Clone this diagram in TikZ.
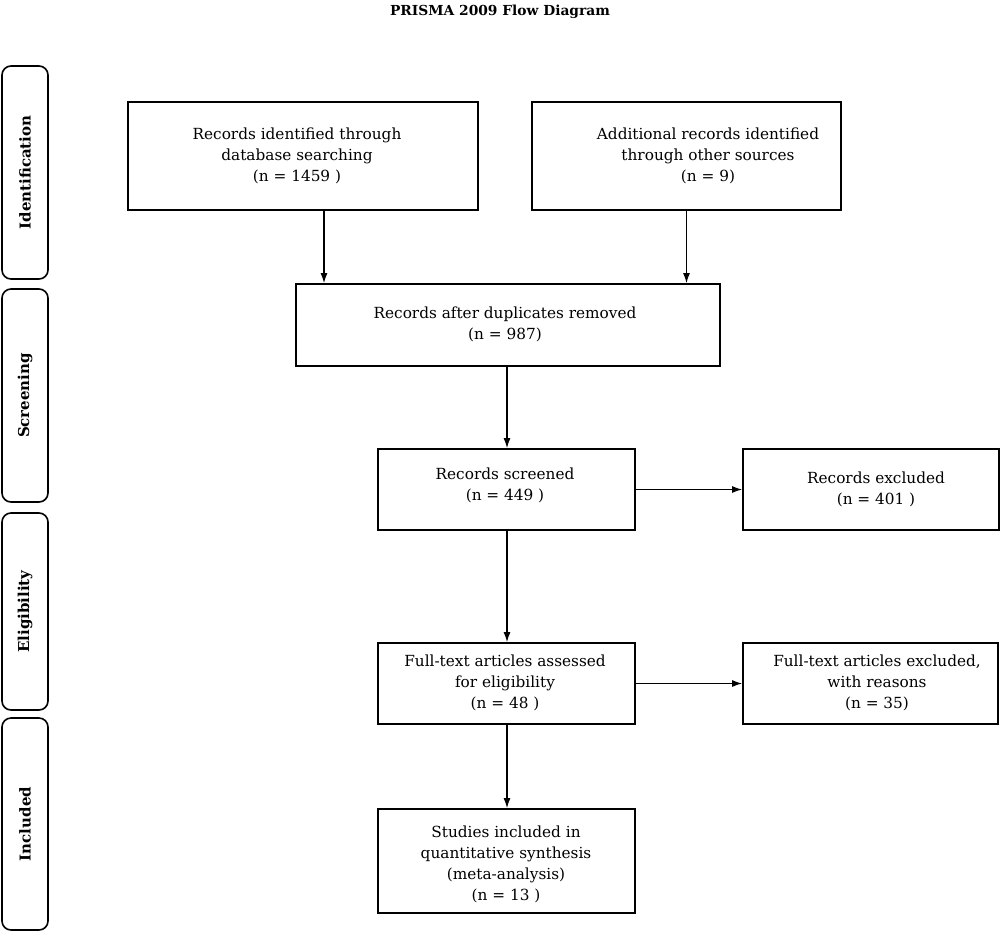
\documentclass[tikz,border=0pt]{standalone}
\usepackage{fontspec}
\setmainfont{DejaVu Serif}
\usetikzlibrary{arrows.meta,calc}
\tikzset{
  box/.style={draw, line width=1.8pt, rectangle, inner sep=0pt},
  side/.style={draw, line width=1.6pt, rectangle, rounded corners=9pt, inner sep=0pt, minimum width=46pt},
  sidetxt/.style={rotate=90, font=\fontsize{15}{18}\selectfont\bfseries},
  txt/.style={align=center, inner sep=0pt, font=\fontsize{15.3}{21}\selectfont},
  arr/.style={line width=1.2pt, -{Latex[length=10pt,width=7pt]}}
}
\begin{document}
\begin{tikzpicture}[x=1pt,y=-1pt]
\useasboundingbox (0,0) rectangle (1000,932);
\node[font=\fontsize{13.8}{18}\selectfont\bfseries] (title) at (500,12) {PRISMA 2009 Flow Diagram};
% side boxes
\node[side, minimum height=213pt] (s1) at (25,172.5) {};
\node[sidetxt] (s1t) at (s1.center) {Identification};
\node[side, minimum height=213pt] (s2) at (25,395.5) {};
\node[sidetxt] (s2t) at (s2.center) {Screening};
\node[side, minimum height=197pt] (s3) at (25,611.5) {};
\node[sidetxt] (s3t) at (s3.center) {Eligibility};
\node[side, minimum height=212pt] (s4) at (25,824) {};
\node[sidetxt] (s4t) at (s4.center) {Included};
% boxes
\node[box, minimum width=350pt, minimum height=108pt] (b1) at (303,156) {};
\node[txt] (t1) at (297,156) {Records identified through\\database searching\\(n = 1459 )};
\node[box, minimum width=309pt, minimum height=108pt] (b2) at (686.5,156) {};
\node[txt] (t2) at (708,156) {Additional records identified\\through other sources\\(n = 9)};
\node[box, minimum width=424pt, minimum height=82pt] (b3) at (508,325) {};
\node[txt] (t3) at (505,324) {Records after duplicates removed\\(n = 987)};
\node[box, minimum width=257pt, minimum height=81pt] (b4) at (506.5,489.5) {};
\node[txt] (t4) at (505,485) {Records screened\\(n = 449 )};
\node[box, minimum width=256pt, minimum height=81pt] (b5) at (871,489.5) {};
\node[txt] (t5) at (876,489) {Records excluded\\(n = 401 )};
\node[box, minimum width=257pt, minimum height=81pt] (b6) at (506.5,683.5) {};
\node[txt] (t6) at (505,683) {Full-text articles assessed\\for eligibility\\(n = 48 )};
\node[box, minimum width=255pt, minimum height=81pt] (b8) at (870.5,683.5) {};
\node[txt] (t8) at (877,683) {Full-text articles excluded,\\with reasons\\(n = 35)};
\node[box, minimum width=257pt, minimum height=104pt] (b7) at (506.5,861) {};
\node[txt] (t7) at (506,864) {Studies included in\\quantitative synthesis\\(meta-analysis)\\(n = 13 )};
% arrows
\coordinate (c1) at (324,0);
\coordinate (c2) at (507,0);
\draw[arr] (b1.south -| c1) -- (b3.north -| c1);
\draw[arr] (b2.south) -- (b3.north -| b2.south);
\draw[arr] (b3.south -| c2) -- (b4.north -| c2);
\draw[arr] (b4.east) -- (b5.west);
\draw[arr] (b4.south -| c2) -- (b6.north -| c2);
\draw[arr] (b6.east) -- (b8.west);
\draw[arr] (b6.south -| c2) -- (b7.north -| c2);
\end{tikzpicture}
\end{document}
